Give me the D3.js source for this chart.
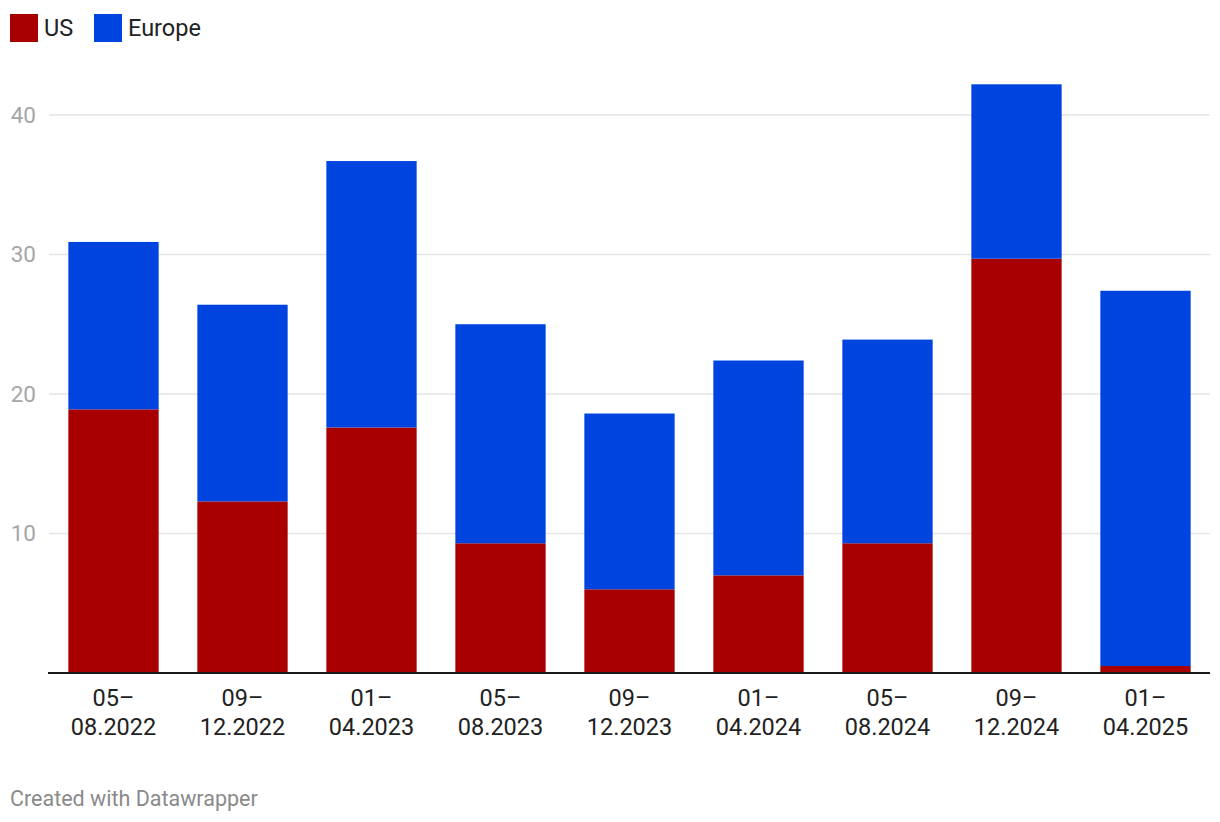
<!DOCTYPE html>
<html>
<head>
<meta charset="utf-8">
<script src="https://cdn.jsdelivr.net/npm/d3@7"></script>
<style>
  body { margin: 0; background: #fff; }
  svg text { font-family: Roboto, "Noto Sans", sans-serif; }
</style>
</head>
<body>
<svg width="1220" height="822"></svg>
<script>
// periods (two-line labels)
var periodTop = ["05–", "09–", "01–", "05–", "09–", "01–", "05–", "09–", "01–"];
var periodBottom = ["08.2022", "12.2022", "04.2023", "08.2023", "12.2023", "04.2024", "08.2024", "12.2024", "04.2025"];
var usValues = [18.9, 12.3, 17.6, 9.3, 6.0, 7.0, 9.3, 29.7, 0.5];
var europeValues = [12.0, 14.1, 19.1, 15.7, 12.6, 15.4, 14.6, 12.5, 26.9];
var seriesNames = ["US", "Europe"];
var seriesColors = ["#a80000", "#0044e0"];
var yTicks = [10, 20, 30, 40];

var svg = d3.select("svg");

var rows = periodBottom.map(function(p, i) {
	return { key: p, US: usValues[i], Europe: europeValues[i] };
});

var x = d3.scaleBand().domain(periodBottom).range([49, 1210]).paddingInner(0.3).paddingOuter(0.15);
var y = d3.scaleLinear().domain([0, 40]).range([673, 115]);
var color = d3.scaleOrdinal().domain(seriesNames).range(seriesColors);

// gridlines
svg.append("g").selectAll("line").data(yTicks).enter().append("line")
	.attr("x1", 49).attr("x2", 1210)
	.attr("y1", function(d) { return y(d); })
	.attr("y2", function(d) { return y(d); })
	.attr("stroke", "#e5e5e5").attr("stroke-width", 1.5);

// y labels
svg.append("g").selectAll("text").data(yTicks).enter().append("text")
	.attr("x", 36)
	.attr("y", function(d) { return y(d); })
	.attr("dy", "0.35em")
	.attr("text-anchor", "end")
	.attr("fill", "#a6a6a6")
	.style("font-size", "22.5px")
	.text(function(d) { return d; });

// stacked bars
var stack = d3.stack().keys(seriesNames);
svg.append("g").selectAll("g").data(stack(rows)).enter().append("g")
	.attr("fill", function(d) { return color(d.key); })
	.selectAll("rect").data(function(d) { return d; }).enter().append("rect")
	.attr("x", function(d) { return x(d.data.key); })
	.attr("width", x.bandwidth())
	.attr("y", function(d) { return y(d[1]); })
	.attr("height", function(d) { return y(d[0]) - y(d[1]); });

// baseline
svg.append("line")
	.attr("x1", 48).attr("x2", 1210)
	.attr("y1", y(0)).attr("y2", y(0))
	.attr("stroke", "#1a1a1a").attr("stroke-width", 2);

// x labels
var xl = svg.append("g").selectAll("text").data(periodBottom).enter().append("text")
	.attr("text-anchor", "middle")
	.attr("fill", "#222")
	.style("font-size", "23.5px");
xl.append("tspan")
	.attr("x", function(d) { return x(d) + x.bandwidth() / 2; })
	.attr("y", 706)
	.text(function(d, i) { return periodTop[i]; });
xl.append("tspan")
	.attr("x", function(d) { return x(d) + x.bandwidth() / 2; })
	.attr("y", 735)
	.text(function(d) { return d; });

// legend
var legendX = [10, 94];
var lg = svg.append("g").selectAll("g").data(seriesNames).enter().append("g")
	.attr("transform", function(d, i) { return "translate(" + legendX[i] + ",14)"; });
lg.append("rect").attr("width", 28).attr("height", 28)
	.attr("fill", function(d) { return color(d); });
lg.append("text").attr("x", 34).attr("y", 14).attr("dy", "0.35em")
	.attr("fill", "#222").style("font-size", "23.5px")
	.text(function(d) { return d; });

// footer
svg.append("text").attr("x", 10).attr("y", 806)
	.attr("fill", "#8a8a8a").style("font-size", "21.5px")
	.text("Created with Datawrapper");
</script>
</body>
</html>
